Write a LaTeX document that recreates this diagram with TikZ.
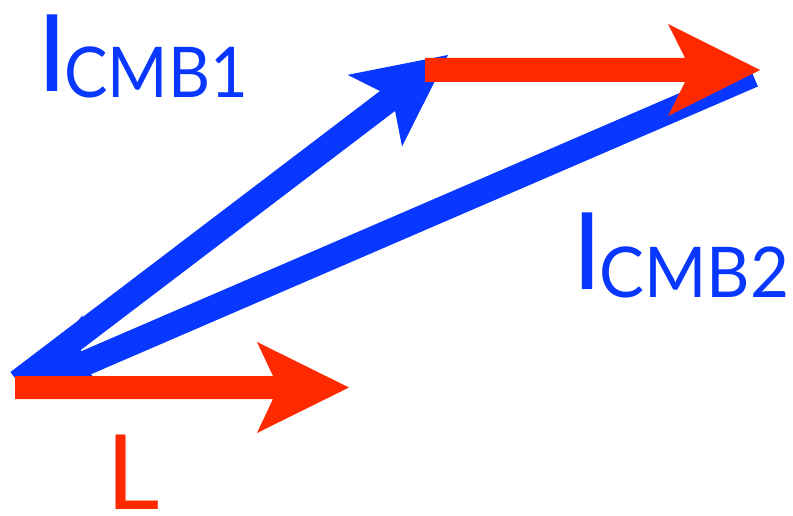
\documentclass[tikz,border=0pt]{standalone}
\usepackage{fontspec}
\setmainfont{Lato}
\usetikzlibrary{calc}
\definecolor{vblue}{RGB}{8,56,255}
\definecolor{vred}{RGB}{255,41,0}
% #1 colour, #2 start, #3 tip, #4 half shaft width, #5 barb distance, #6 head half width, #7 notch distance
\newcommand\fatarrow[7]{%
  \coordinate (fa-n) at ($(#3)!#7!(#2)$);
  \coordinate (fa-b) at ($(#3)!#5!(#2)$);
  \fill[#1] ($(#2)!#4!90:(#3)$) -- ($(fa-n)!#4!90:(#3)$) -- ($(fa-b)!#6!90:(#3)$) -- (#3)
    -- ($(fa-b)!#6!-90:(#3)$) -- ($(fa-n)!#4!-90:(#3)$) -- ($(#2)!#4!-90:(#3)$) -- cycle;
}
\tikzset{
  bigI/.style={inner sep=0pt, anchor=base west, font=\fontsize{107}{107}\selectfont},
  subtxt/.style={inner sep=0pt, anchor=base west, font=\fontsize{70}{70}\selectfont},
}
\begin{document}
\begin{tikzpicture}[x=1pt,y=-1pt]
\useasboundingbox (0,0) rectangle (793,516);
% coordinates
\coordinate (o1) at (18,382);
\coordinate (t1) at (448,55);
\coordinate (o2) at (16,393);
\coordinate (e2) at (753,75);
\coordinate (r1s) at (425,70);
\coordinate (r1t) at (760,70);
\coordinate (r2s) at (15,387.5);
\coordinate (r2t) at (349,387.5);
% blue arrows
\fatarrow{vblue}{o1}{t1}{12.5pt}{92pt}{45pt}{76pt}
\fatarrow{vblue}{e2}{o2}{12.5pt}{92pt}{45pt}{76pt}
% red arrows
\fatarrow{vred}{r1s}{r1t}{12pt}{92pt}{46pt}{75pt}
\fatarrow{vred}{r2s}{r2t}{11.5pt}{92pt}{45.5pt}{76pt}
% labels
\node[bigI, text=vblue] (i1) at (37,92) {I};
\node[subtxt, text=vblue] (c1) at (64,98) {\scalebox{0.93}[1]{CMB1}};
\node[bigI, text=vblue] (i2) at (572,289) {I};
\node[subtxt, text=vblue] (c2) at (599,297) {\scalebox{0.96}[1]{CMB2}};
\node[bigI, text=vred, font=\fontsize{104}{104}\selectfont] (l) at (106,509) {L};
\end{tikzpicture}
\end{document}
